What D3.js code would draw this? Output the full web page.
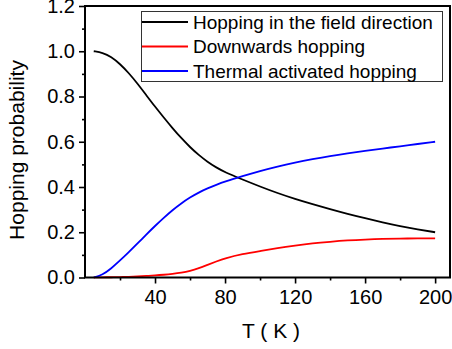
<!DOCTYPE html>
<html>
<head>
<meta charset="utf-8">
<script src="https://cdnjs.cloudflare.com/ajax/libs/d3/7.8.5/d3.min.js"></script>
<style>
  body { margin: 0; background: #fff; }
  svg { display: block; font-family: "Liberation Sans", Arial, sans-serif; }
</style>
</head>
<body>
<div id="chart"></div>
<script>
// temperature (K)
const temps = [5, 10, 15, 20, 25, 30, 35, 40, 45, 50, 55, 60, 65, 70, 75, 80,
  90, 100, 110, 120, 130, 140, 150, 160, 170, 180, 190, 200];
const fieldDir = [1.000, 0.994, 0.976, 0.944, 0.904, 0.857, 0.806, 0.755, 0.707, 0.660, 0.616, 0.576, 0.541, 0.511, 0.486, 0.465,
  0.433, 0.402, 0.373, 0.347, 0.324, 0.302, 0.281, 0.262, 0.244, 0.227, 0.213, 0.200];
const downwards = [0.000, 0.001, 0.001, 0.002, 0.003, 0.005, 0.007, 0.009, 0.012, 0.016, 0.021, 0.029, 0.041, 0.056, 0.071, 0.085,
  0.104, 0.117, 0.130, 0.141, 0.151, 0.158, 0.164, 0.168, 0.171, 0.172, 0.173, 0.173];
const thermal = [0.000, 0.012, 0.040, 0.075, 0.112, 0.150, 0.190, 0.228, 0.264, 0.298, 0.328, 0.354, 0.376, 0.394, 0.410, 0.424,
  0.448, 0.471, 0.491, 0.508, 0.523, 0.537, 0.549, 0.560, 0.570, 0.580, 0.590, 0.600];
const seriesNames = ['Hopping in the field direction', 'Downwards hopping', 'Thermal activated hopping'];
const seriesColors = ['#000000', '#ff0000', '#0000ff'];
const xTicks = [40, 80, 120, 160, 200];
const xMinorTicks = [20, 60, 100, 140, 180];
const yTicks = [0, 0.2, 0.4, 0.6, 0.8, 1.0, 1.2];
const yMinorTicks = [0.1, 0.3, 0.5, 0.7, 0.9, 1.1];

const width = 452, height = 349;
const margin = { top: 6, right: 2, bottom: 71.5, left: 85 };

const svg = d3.select('#chart').append('svg')
  .attr('width', width)
  .attr('height', height);

const x = d3.scaleLinear()
  .domain([0, 208.5])
  .range([margin.left, width - margin.right]);
const y = d3.scaleLinear()
  .domain([0, 1.2])
  .range([height - margin.bottom, margin.top]);

const series = [fieldDir, downwards, thermal];

// curves
const line = d3.line()
  .x((d, i) => x(temps[i]))
  .y(d => y(d))
  .curve(d3.curveBasis);

svg.append('g')
  .selectAll('path')
  .data(series)
  .enter().append('path')
  .attr('d', d => line(d))
  .attr('fill', 'none')
  .attr('stroke', (d, i) => seriesColors[i])
  .attr('stroke-width', 1.8);

// frame
svg.append('rect')
  .attr('x', x(0))
  .attr('y', y(1.2))
  .attr('width', x.range()[1] - x(0))
  .attr('height', y(0) - y(1.2))
  .attr('fill', 'none')
  .attr('stroke', '#000')
  .attr('stroke-width', 2);

// y axis
svg.append('g')
  .attr('class', 'axis axis-y')
  .attr('transform', `translate(${x(0)},0)`)
  .call(d3.axisLeft(y).tickValues(yTicks).tickFormat(d3.format('.1f')).tickSize(6).tickPadding(4));
svg.append('g')
  .attr('transform', `translate(${x(0)},0)`)
  .call(d3.axisLeft(y).tickValues(yMinorTicks).tickSize(3).tickFormat(''));

// x axis
svg.append('g')
  .attr('class', 'axis axis-x')
  .attr('transform', `translate(0,${y(0)})`)
  .call(d3.axisBottom(x).tickValues(xTicks).tickSize(6).tickPadding(6));
svg.append('g')
  .attr('transform', `translate(0,${y(0)})`)
  .call(d3.axisBottom(x).tickValues(xMinorTicks).tickSize(3).tickFormat(''));

svg.selectAll('.domain').remove();
svg.selectAll('.tick line').attr('stroke', '#000').attr('stroke-width', 1.6);
svg.selectAll('.tick text')
  .attr('fill', '#000')
  .style('font-size', '20px');

// axis titles
svg.append('text')
  .attr('x', 271)
  .attr('y', 338)
  .attr('text-anchor', 'middle')
  .style('font-size', '21px')
  .text('T ( K )');

svg.append('text')
  .attr('transform', 'translate(24,150) rotate(-90)')
  .attr('text-anchor', 'middle')
  .style('font-size', '21px')
  .text('Hopping probability');

// legend
const legend = svg.append('g').attr('class', 'legend');
legend.append('rect')
  .attr('x', 141.5)
  .attr('y', 11.5)
  .attr('width', 301)
  .attr('height', 70)
  .attr('fill', '#fff')
  .attr('stroke', '#333')
  .attr('stroke-width', 1);

const rows = legend.selectAll('.row')
  .data(seriesNames)
  .enter().append('g')
  .attr('class', 'row')
  .attr('transform', (d, i) => `translate(0,${22 + i * 24.5})`);
rows.append('line')
  .attr('x1', 142).attr('x2', 188)
  .attr('y1', 0).attr('y2', 0)
  .attr('stroke', (d, i) => seriesColors[i])
  .attr('stroke-width', 2);
rows.append('text')
  .attr('x', 193)
  .attr('dy', '0.36em')
  .style('font-size', '19px')
  .text(d => d);
</script>
</body>
</html>
